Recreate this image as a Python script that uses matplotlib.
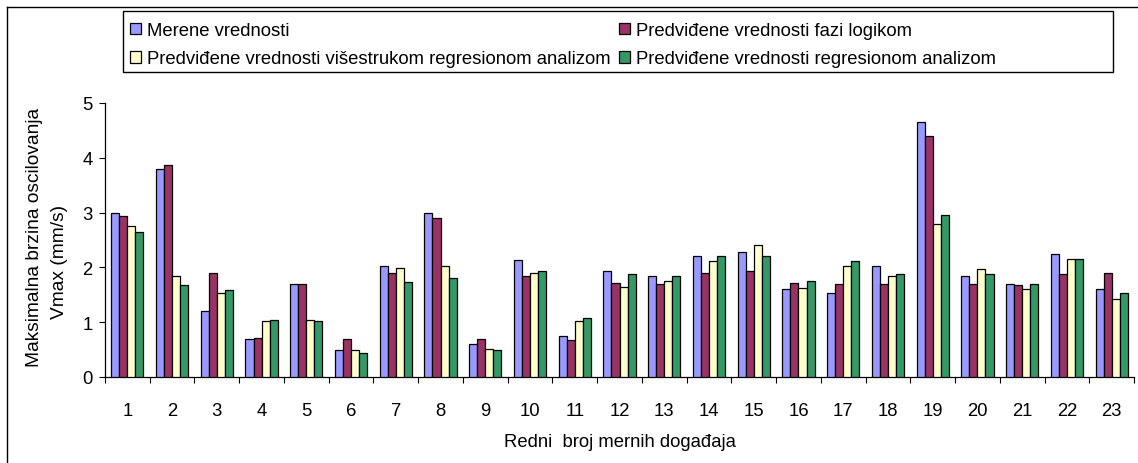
import numpy as np
import matplotlib
matplotlib.use("Agg")
import matplotlib.pyplot as plt
from matplotlib.lines import Line2D
from matplotlib.patches import Rectangle

plt.rcParams['font.family'] = ['Liberation Sans', 'DejaVu Sans']

# Data
events = np.arange(1, 24)
merene = [3.00, 3.79, 1.21, 0.70, 1.69, 0.49, 2.02, 3.00, 0.60, 2.14, 0.74, 1.93,
          1.85, 2.21, 2.28, 1.60, 1.54, 2.02, 4.65, 1.85, 1.69, 2.25, 1.60]
fazi = [2.93, 3.86, 1.90, 0.72, 1.69, 0.70, 1.90, 2.90, 0.70, 1.85, 0.67, 1.72,
        1.69, 1.90, 1.93, 1.71, 1.69, 1.69, 4.39, 1.69, 1.67, 1.88, 1.90]
visestruka = [2.75, 1.85, 1.54, 1.02, 1.04, 0.49, 1.99, 2.02, 0.51, 1.90, 1.02, 1.65,
              1.76, 2.11, 2.40, 1.62, 2.02, 1.85, 2.79, 1.97, 1.60, 2.16, 1.42]
regresija = [2.65, 1.67, 1.58, 1.04, 1.02, 0.44, 1.74, 1.80, 0.49, 1.94, 1.07, 1.88,
             1.85, 2.21, 2.21, 1.76, 2.11, 1.88, 2.95, 1.88, 1.69, 2.16, 1.54]

labels = ["Merene vrednosti",
          "Predviđene vrednosti fazi logikom",
          "Predviđene vrednosti višestrukom regresionom analizom",
          "Predviđene vrednosti regresionom analizom"]
colors = ["#9999FF", "#993366", "#FFFFCC", "#339966"]
series = [merene, fazi, visestruka, regresija]

W, H, DPI = 1138, 464, 100
FS = 13.3
fig = plt.figure(figsize=(W / DPI, H / DPI), dpi=DPI)
ax = fig.add_axes([105 / W, 1 - 378 / H, (1134 - 105) / W, (378 - 104) / H])

bw = 0.18
bars = []
for i, (vals, col, lab) in enumerate(zip(series, colors, labels)):
    off = (i - 1.5) * bw
    b = ax.bar(events + off, vals, width=bw, color=col, edgecolor="black",
               linewidth=0.9, label=lab, zorder=3)
    bars.append(b)

ax.set_xlim(0.5, 23.5)
ax.set_ylim(0, 5)
ax.set_yticks(range(6))
ax.set_xticks(np.arange(0.5, 24, 1))
ax.set_xticklabels([])
ax.set_xticks(events, minor=True)
ax.set_xticklabels([str(e) for e in events], minor=True)
ax.tick_params(axis='x', which='major', length=4, width=0.8, direction='out')
ax.tick_params(axis='x', which='minor', length=0, pad=18, labelsize=FS)
ax.tick_params(axis='y', length=4, width=0.8, direction='out', pad=5, labelsize=FS)
for s in ['top', 'right']:
    ax.spines[s].set_visible(False)
for s in ['left', 'bottom']:
    ax.spines[s].set_linewidth(0.9)

ax.set_xlabel("Redni  broj mernih događaja", fontsize=FS, labelpad=10)

# y label, two lines placed like the original
fig.text(35 / W, 1 - 367 / H, "Maksimalna brzina oscilovanja", rotation=90,
         ha='center', va='bottom', fontsize=FS + 0.5)
fig.text(60 / W, 1 - 262 / H, "Vmax (mm/s)", rotation=90,
         ha='center', va='center', fontsize=FS + 0.5)

# legend: row 1 = merene, fazi; row 2 = visestruka, regresija
order = [0, 2, 1, 3]
leg = fig.legend([bars[i] for i in order], [labels[i] for i in order], ncol=2,
                 loc='upper left', bbox_to_anchor=(130 / W, 1 - 23 / H),
                 frameon=False, fontsize=FS, handlelength=0.58, handleheight=0.58,
                 handletextpad=0.36, columnspacing=0.43, borderpad=0,
                 labelspacing=0.62, borderaxespad=0)
# legend box is wider than its entries, as in the original
fig.add_artist(Rectangle((123 / W, 1 - 73 / H), (1113 - 123) / W, (73 - 12) / H,
                         transform=fig.transFigure, fill=False, edgecolor='black',
                         linewidth=1))

# outer chart frame (top and left edges visible)
fig.add_artist(Line2D([7 / W, 1], [1 - 8 / H, 1 - 8 / H], color='black', lw=1,
                      transform=fig.transFigure))
fig.add_artist(Line2D([7 / W, 7 / W], [0, 1 - 8 / H], color='black', lw=1,
                      transform=fig.transFigure))

fig.savefig("out.png", dpi=DPI)
